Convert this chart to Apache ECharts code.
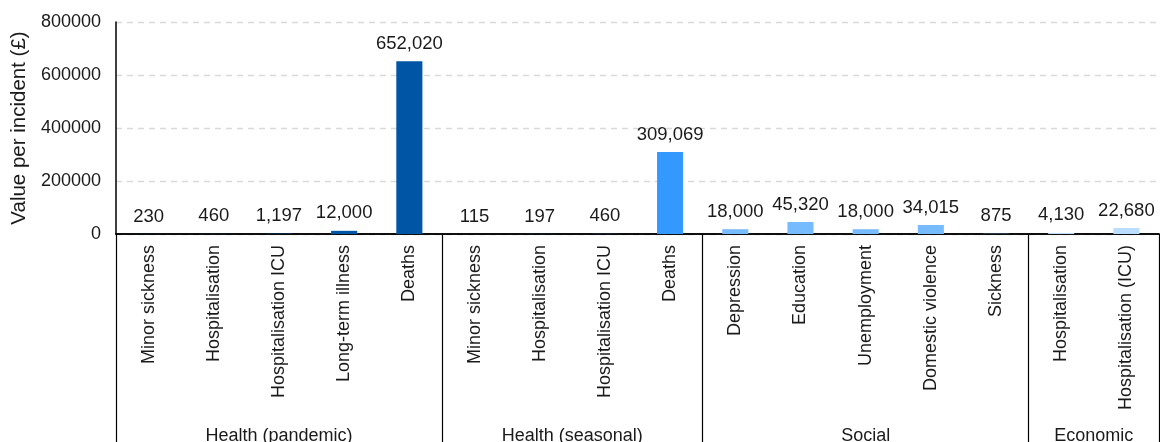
<!DOCTYPE html>
<html>
<head>
<meta charset="utf-8">
<script src="https://cdn.jsdelivr.net/npm/echarts@6/dist/echarts.min.js"></script>
<style>
html,body{margin:0;padding:0;background:#fff;}
#chart{width:1160px;height:442px;}
</style>
</head>
<body>
<div id="chart"></div>
<script>
const groupNames = ['Health (pandemic)', 'Health (seasonal)', 'Social', 'Economic'];
const pandemicCats = ['Minor sickness', 'Hospitalisation', 'Hospitalisation ICU', 'Long-term illness', 'Deaths'];
const seasonalCats = ['Minor sickness', 'Hospitalisation', 'Hospitalisation ICU', 'Deaths'];
const socialCats = ['Depression', 'Education', 'Unemployment', 'Domestic violence', 'Sickness'];
const economicCats = ['Hospitalisation', 'Hospitalisation (ICU)'];
const pandemicVals = [230, 460, 1197, 12000, 652020];
const seasonalVals = [115, 197, 460, 309069];
const socialVals = [18000, 45320, 18000, 34015, 875];
const economicVals = [4130, 22680];
const groupColors = ['#0055A5', '#3399FF', '#77BBFF', '#BBDDFF'];
const yTicks = [0, 200000, 400000, 600000, 800000];

const groupCats = [pandemicCats, seasonalCats, socialCats, economicCats];
const groupVals = [pandemicVals, seasonalVals, socialVals, economicVals];

const categories = [];
const data = [];
const boundaries = [0];
const centers = [];
let idx = 0;
groupCats.forEach((cats, g) => {
  const start = idx;
  cats.forEach((c, i) => {
    categories.push(c);
    data.push({ value: groupVals[g][i], itemStyle: { color: groupColors[g] } });
    idx++;
  });
  boundaries.push(idx);
  centers.push((start + idx) / 2);
});

const chart = echarts.init(document.getElementById('chart'), null, { renderer: 'canvas' });
const font = 'Liberation Sans, Arial, sans-serif';
const txt = '#1a1a1a';
chart.setOption({
  animation: false,
  grid: { left: 116, right: 1, top: 22, bottom: 208, containLabel: false, outerBoundsMode: 'none' },
  xAxis: [
    {
      type: 'category',
      data: categories,
      position: 'bottom',
      axisLine: { show: true, lineStyle: { color: '#000', width: 1.5 } },
      axisTick: { show: false },
      axisLabel: { interval: 0, rotate: 90, margin: 11, fontSize: 18, color: txt, fontFamily: font }
    },
    {
      type: 'value',
      min: 0,
      max: categories.length,
      position: 'bottom',
      axisLine: { show: true, lineStyle: { color: '#000', width: 1.5 } },
      splitLine: { show: false },
      axisTick: { show: true, customValues: boundaries, length: 210, lineStyle: { color: '#000', width: 1.2 } },
      axisLabel: {
        customValues: centers,
        margin: 193,
        fontSize: 18,
        color: txt,
        fontFamily: font,
        formatter: (v) => { const k = centers.indexOf(v); return k >= 0 ? groupNames[k] : ''; }
      }
    }
  ],
  yAxis: {
    type: 'value',
    min: yTicks[0],
    max: yTicks[yTicks.length - 1],
    interval: yTicks[1] - yTicks[0],
    name: 'Value per incident (£)',
    nameLocation: 'middle',
    nameGap: 82,
    nameTextStyle: { fontSize: 20.5, color: txt, fontFamily: font },
    axisLine: { show: true, lineStyle: { color: '#000', width: 1.5 } },
    axisTick: { show: false },
    axisLabel: { fontSize: 18, color: txt, margin: 15, fontFamily: font, formatter: (v) => String(v) },
    splitLine: { show: true, lineStyle: { color: '#d9d9d9', type: [6, 5], width: 1.3 } }
  },
  series: [{
    type: 'bar',
    xAxisIndex: 0,
    data: data,
    barWidth: '40%',
    label: {
      show: true,
      position: 'top',
      distance: 8,
      fontSize: 18.5,
      color: txt,
      fontFamily: font,
      formatter: (p) => p.value.toLocaleString('en-US')
    }
  }]
});
</script>
</body>
</html>
